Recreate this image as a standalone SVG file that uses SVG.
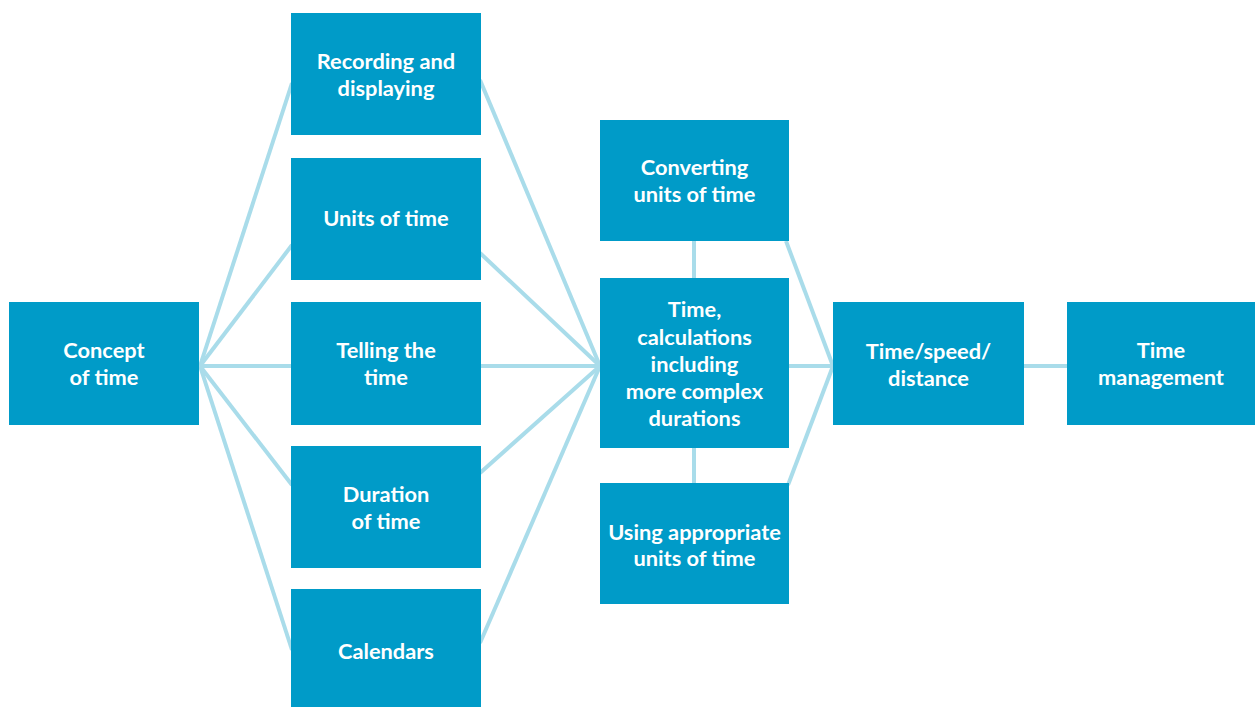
<svg xmlns="http://www.w3.org/2000/svg" width="1255" height="707" viewBox="0 0 1255 707">
<style>
.box{fill:#009bc8}
.lbl{font-family:Lato,"Open Sans","Liberation Sans",sans-serif;font-weight:bold;font-size:21.8px;fill:#ffffff;text-anchor:middle}
.con line{stroke:#a9dcea;stroke-width:4;fill:none}
</style>
<rect width="1255" height="707" fill="#ffffff"/>
<g id="connectors" class="con">
<line x1="200" y1="366" x2="292" y2="83"/>
<line x1="200" y1="366" x2="292" y2="245"/>
<line x1="200" y1="366" x2="292" y2="366"/>
<line x1="200" y1="366" x2="292" y2="485"/>
<line x1="200" y1="366" x2="292" y2="650"/>
<line x1="480" y1="80" x2="600" y2="366"/>
<line x1="480" y1="253" x2="600" y2="366"/>
<line x1="480" y1="366" x2="600" y2="366"/>
<line x1="480" y1="473" x2="600" y2="366"/>
<line x1="480" y1="643" x2="600" y2="366"/>
<line x1="694" y1="240" x2="694" y2="279"/>
<line x1="694" y1="446" x2="694" y2="484"/>
<line x1="786" y1="241" x2="833" y2="366"/>
<line x1="788" y1="366" x2="834" y2="366"/>
<line x1="788" y1="485" x2="833" y2="366"/>
<line x1="1023" y1="366" x2="1068" y2="366"/>
</g>
<g id="concept">
<rect class="box" x="9" y="302" width="190" height="123"/>
<text class="lbl" x="104" y="358">Concept</text>
<text class="lbl" x="104" y="385">of time</text>
</g>
<g id="recording">
<rect class="box" x="291" y="13" width="190" height="122"/>
<text class="lbl" x="386" y="69">Recording and</text>
<text class="lbl" x="386" y="96">displaying</text>
</g>
<g id="units">
<rect class="box" x="291" y="158" width="190" height="122"/>
<text class="lbl" x="386" y="226">Units of time</text>
</g>
<g id="telling">
<rect class="box" x="291" y="302" width="190" height="123"/>
<text class="lbl" x="386" y="358">Telling the</text>
<text class="lbl" x="386" y="385">time</text>
</g>
<g id="duration">
<rect class="box" x="291" y="446" width="190" height="122"/>
<text class="lbl" x="386" y="502">Duration</text>
<text class="lbl" x="386" y="529">of time</text>
</g>
<g id="calendars">
<rect class="box" x="291" y="589" width="190" height="125"/>
<text class="lbl" x="386" y="659">Calendars</text>
</g>
<g id="converting">
<rect class="box" x="600" y="120" width="189" height="121"/>
<text class="lbl" x="694.5" y="175">Converting</text>
<text class="lbl" x="694.5" y="202">units of time</text>
</g>
<g id="calculations">
<rect class="box" x="600" y="278" width="189" height="170"/>
<text class="lbl" x="694.5" y="317">Time,</text>
<text class="lbl" x="694.5" y="345">calculations</text>
<text class="lbl" x="694.5" y="372">including</text>
<text class="lbl" x="694.5" y="399">more complex</text>
<text class="lbl" x="694.5" y="426">durations</text>
</g>
<g id="using">
<rect class="box" x="600" y="483" width="189" height="121"/>
<text class="lbl" x="694.5" y="540">Using appropriate</text>
<text class="lbl" x="694.5" y="566">units of time</text>
</g>
<g id="speed">
<rect class="box" x="833" y="302" width="191" height="123"/>
<text class="lbl" x="928.5" y="359">Time/speed/</text>
<text class="lbl" x="928.5" y="386">distance</text>
</g>
<g id="management">
<rect class="box" x="1067" y="302" width="188" height="123"/>
<text class="lbl" x="1161" y="358">Time</text>
<text class="lbl" x="1161" y="385">management</text>
</g>
</svg>
